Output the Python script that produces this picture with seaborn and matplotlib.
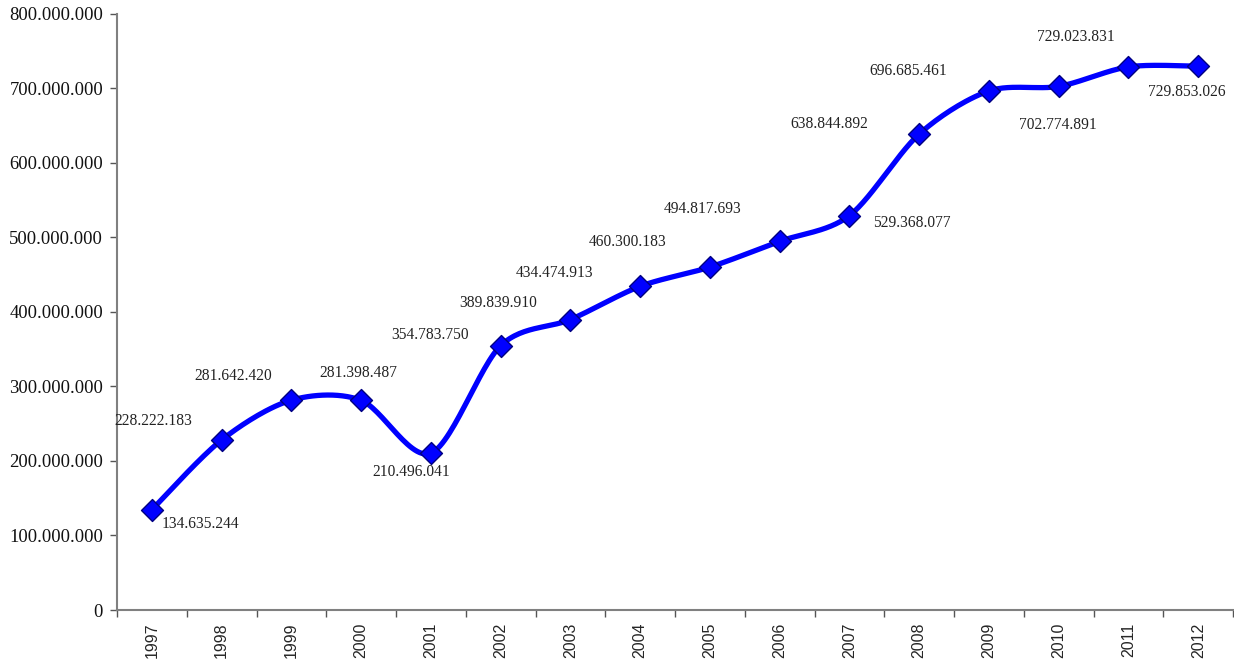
import numpy as np
import pandas as pd
import matplotlib
matplotlib.use("Agg")
import matplotlib.pyplot as plt
import seaborn as sns
from matplotlib.ticker import FuncFormatter, FixedLocator

years = ["1997", "1998", "1999", "2000", "2001", "2002", "2003", "2004",
         "2005", "2006", "2007", "2008", "2009", "2010", "2011", "2012"]
values = [134635244, 228222183, 281642420, 281398487, 210496041, 354783750,
          389839910, 434474913, 460300183, 494817693, 529368077, 638844892,
          696685461, 702774891, 729023831, 729853026]
value_labels = ["134.635.244", "228.222.183", "281.642.420", "281.398.487",
                "210.496.041", "354.783.750", "389.839.910", "434.474.913",
                "460.300.183", "494.817.693", "529.368.077", "638.844.892",
                "696.685.461", "702.774.891", "729.023.831", "729.853.026"]
y_ticks = [0, 100000000, 200000000, 300000000, 400000000, 500000000,
           600000000, 700000000, 800000000]

# label offsets in pixels (dx right, dy up) relative to marker (layout only)
label_offsets = [(49, -14), (-68, 19), (-58, 24), (-3, 27), (-20, -19),
                 (-71, 11), (-72, 17), (-86, 13), (-82, 25), (-77, 32),
                 (62, -7), (-90, 10), (-81, 20), (-1, -39), (-53, 30),
                 (-11, -26)]

sns.set_style("white")
fig = plt.figure(figsize=(12.34, 6.65), dpi=100)
ax = fig.add_axes([0.0948, 0.0827, 0.9045, 0.8963])

x = np.arange(len(years))
y = np.array(values, dtype=float)

# smoothed connecting curve (cardinal spline through the data points)
def smooth(xp, yp, n=30, tension=0.45):
    px = np.concatenate([[xp[0]], xp, [xp[-1]]])
    py = np.concatenate([[yp[0]], yp, [yp[-1]]])
    xs, ys = [], []
    for i in range(1, len(px) - 2):
        t = np.linspace(0, 1, n)
        m1x = tension * (px[i + 1] - px[i - 1]); m1y = tension * (py[i + 1] - py[i - 1])
        m2x = tension * (px[i + 2] - px[i]); m2y = tension * (py[i + 2] - py[i])
        h00 = 2 * t**3 - 3 * t**2 + 1
        h10 = t**3 - 2 * t**2 + t
        h01 = -2 * t**3 + 3 * t**2
        h11 = t**3 - t**2
        xs.append(h00 * px[i] + h10 * m1x + h01 * px[i + 1] + h11 * m2x)
        ys.append(h00 * py[i] + h10 * m1y + h01 * py[i + 1] + h11 * m2y)
    return np.concatenate(xs), np.concatenate(ys)

sx, sy = smooth(x, y)
ax.plot(sx, sy, color="#0000FF", lw=3.8, solid_capstyle="round", zorder=2)

df = pd.DataFrame({"x": x, "value": y})
sns.scatterplot(data=df, x="x", y="value", marker="D", s=125, color="#0000FF",
                edgecolor="#000080", linewidth=1.0, ax=ax, zorder=3, legend=False)

for xi, yi, lab, (dx, dy) in zip(x, y, value_labels, label_offsets):
    ax.annotate(lab, (xi, yi), xytext=(dx * 0.72, dy * 0.72), textcoords="offset points",
                ha="center", va="center", fontsize=11.2, family="Liberation Serif",
                color="#222222")

ax.set_xlim(-0.5, len(years) - 0.5)
ax.set_ylim(0, 800000000)
ax.set_yticks(y_ticks)
ax.yaxis.set_major_formatter(FuncFormatter(lambda v, p: "0" if v == 0 else f"{int(v):,}".replace(",", ".")))
ax.set_xticks(x)
ax.set_xticklabels(years, rotation=90, fontsize=11.5, family="Liberation Sans")
ax.xaxis.set_minor_locator(FixedLocator(np.arange(-0.5, len(years), 1.0)))
ax.tick_params(axis="x", which="major", length=0, pad=9)
ax.tick_params(axis="x", which="minor", length=5, width=1.0, color="#555555", direction="out", bottom=True)
ax.tick_params(axis="y", which="major", length=5, width=1.0, color="#555555", direction="out", left=True, pad=5)
for lbl in ax.get_yticklabels():
    lbl.set_family("Liberation Serif")
    lbl.set_fontsize(13.4)
    lbl.set_color("#111111")
for side in ["top", "right"]:
    ax.spines[side].set_visible(False)
for side in ["left", "bottom"]:
    ax.spines[side].set_color("#808080")
    ax.spines[side].set_linewidth(1.5)
ax.set_xlabel("")
ax.set_ylabel("")
ax.grid(False)

fig.savefig("out.png", dpi=100)
